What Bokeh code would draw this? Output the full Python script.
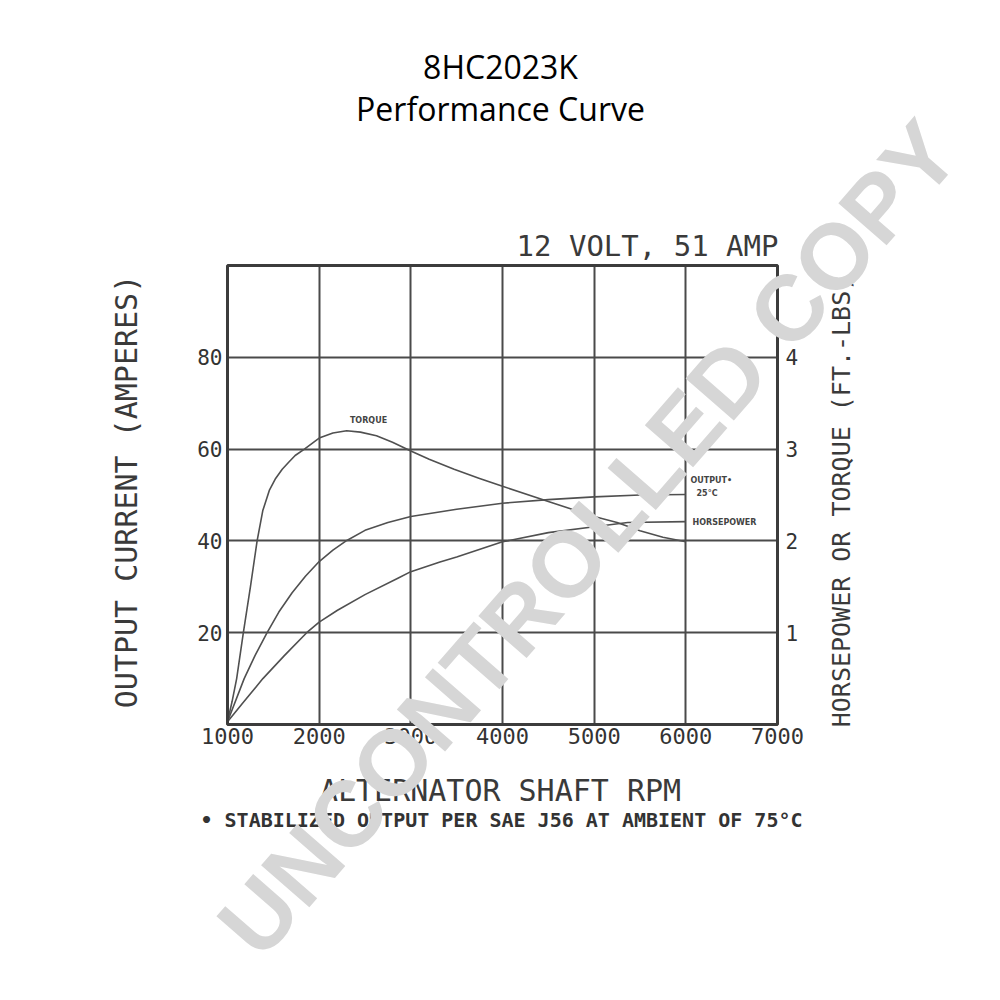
import math
from bokeh.plotting import figure
from bokeh.models import Range1d, LinearAxis, FixedTicker, Label, BoxAnnotation, Grid
from bokeh.embed import file_html
from bokeh.resources import INLINE

# ---------------- data ----------------
title_line1 = "8HC2023K"
title_line2 = "Performance Curve"
rating_text = "12 VOLT, 51 AMP"
x_title = "ALTERNATOR SHAFT RPM"
y_left_title = "OUTPUT CURRENT (AMPERES)"
y_right_title = "HORSEPOWER OR TORQUE (FT.-LBS)"
footnote = "\u2022 STABILIZED OUTPUT PER SAE J56 AT AMBIENT OF 75\u00b0C"
watermark = "UNCONTROLLED COPY"

x_ticks = [1000, 2000, 3000, 4000, 5000, 6000, 7000]
y_left_ticks = [20, 40, 60, 80]
y_left_max = 100
y_right_ticks = [1, 2, 3, 4]
y_right_max = 5

rpm_torque = [1000, 1050, 1100, 1173, 1250, 1323, 1385, 1456, 1525, 1597, 1670, 1738, 1839,
              2000, 2150, 2300, 2450, 2625, 2800, 3000, 3200, 3472, 3750, 4000, 4500,
              5000, 5250, 5500, 5750, 6000]
torque = [0.03, 0.25, 0.5, 1.0, 1.5, 2.0, 2.33, 2.55, 2.68, 2.78, 2.86, 2.93, 3.0,
          3.12, 3.175, 3.2, 3.185, 3.145, 3.075, 2.98, 2.89, 2.78, 2.68, 2.595, 2.43,
          2.265, 2.2, 2.11, 2.04, 1.99]

rpm_output = [1000, 1182, 1300, 1432, 1560, 1705, 1850, 2000, 2150, 2302, 2500, 2750,
              3000, 3500, 4000, 4500, 5000, 5500, 6000]
output_amps = [0.6, 10, 15, 20, 24.5, 28.7, 32.3, 35.5, 38, 40.1, 42.3, 44,
               45.3, 46.9, 48.2, 49, 49.6, 50, 50.1]

rpm_hp = [1000, 1180, 1386, 1620, 1864, 2000, 2200, 2500, 2864, 3000, 3318, 3500,
          4000, 4500, 5000, 5367, 6000]
horsepower = [0.03, 0.25, 0.5, 0.75, 1.0, 1.115, 1.245, 1.415, 1.595, 1.665, 1.77, 1.825,
              1.99, 2.09, 2.155, 2.2, 2.21]

# ---------------- layout ----------------
W, H = 992, 992
ML, MR, MT, MB = 40, 22, 0, 29          # canvas borders around the (large) frame
CL, CR, CT, CB = 227, 777, 265, 724     # where the chart box sits on the canvas

xpp = (x_ticks[-1] - x_ticks[0]) / (CR - CL)   # rpm per pixel
ypp = y_left_max / (CB - CT)                   # amps per pixel
x0 = x_ticks[0] - (CL - ML) * xpp
x1 = x_ticks[-1] + (W - MR - CR) * xpp
y0 = -(H - MB - CB) * ypp
y1 = y_left_max + (CT - MT) * ypp
rs = y_right_max / y_left_max

p = figure(width=W, height=H, output_backend="svg", toolbar_location=None,
           x_range=Range1d(x0, x1), y_range=Range1d(y0, y1),
           min_border_left=ML, min_border_right=MR,
           min_border_top=MT, min_border_bottom=MB,
           background_fill_color="white", border_fill_color="white")
p.extra_y_ranges = {"right": Range1d(y0 * rs, y1 * rs)}
p.outline_line_color = None

ink = "#3c3c3c"
mono = "DejaVu Sans Mono"
grid_color = "#4a4a4a"

p.xgrid.ticker = FixedTicker(ticks=x_ticks[1:-1])
p.ygrid.ticker = FixedTicker(ticks=y_left_ticks)
if "cross_bounds" in Grid.properties():
    p.xgrid.cross_bounds = (0, y_left_max)
    p.ygrid.cross_bounds = (x_ticks[0], x_ticks[-1])
    for g in (p.xgrid, p.ygrid):
        g.grid_line_color = grid_color
        g.grid_line_width = 2
        g.grid_line_alpha = 1
else:
    p.xgrid.visible = False
    p.ygrid.visible = False
    xs = x_ticks[1:-1]
    p.segment(x0=xs, x1=xs, y0=[0] * len(xs), y1=[y_left_max] * len(xs),
              line_color=grid_color, line_width=2)
    p.segment(x0=[x_ticks[0]] * len(y_left_ticks), x1=[x_ticks[-1]] * len(y_left_ticks),
              y0=y_left_ticks, y1=y_left_ticks, line_color=grid_color, line_width=2)

p.add_layout(BoxAnnotation(left=x_ticks[0], right=x_ticks[-1], bottom=0, top=y_left_max,
                           fill_alpha=0, line_color=ink, line_width=3, line_alpha=1))

def style_axis(ax, size, standoff):
    ax.axis_line_color = None
    ax.major_tick_line_color = None
    ax.minor_tick_line_color = None
    ax.major_tick_out = 0
    ax.major_tick_in = 0
    ax.major_label_text_font = mono
    ax.major_label_text_font_size = size
    ax.major_label_text_color = "#333333"
    ax.major_label_standoff = standoff

p.xaxis.ticker = FixedTicker(ticks=x_ticks)
p.xaxis.fixed_location = 0
style_axis(p.xaxis[0], "22px", 3)
p.yaxis.ticker = FixedTicker(ticks=y_left_ticks)
p.yaxis.fixed_location = x_ticks[0]
style_axis(p.yaxis[0], "21px", 5)
ra = LinearAxis(y_range_name="right", ticker=FixedTicker(ticks=y_right_ticks),
                fixed_location=x_ticks[-1])
style_axis(ra, "21px", 8)
p.add_layout(ra, "right")

# ---------------- curves ----------------
curve = dict(line_color="#505050", line_width=1.6, line_join="round")
p.line(rpm_torque, torque, y_range_name="right", **curve)
p.line(rpm_output, output_amps, **curve)
p.line(rpm_hp, horsepower, y_range_name="right", **curve)

# ---------------- texts ----------------
def dx(px):  # reference-image pixel -> data x
    return x_ticks[0] + (px - CL) * xpp

def dy(py):  # reference-image pixel -> data y
    return (CB - py) * ypp

def add_text(txt, px, py, size, font=mono, color="#333333", style="normal", angle=0.0, align="center"):
    p.add_layout(Label(x=dx(px), y=dy(py), text=txt, text_font=font, text_font_size=size,
                       text_color=color, text_font_style=style, angle=angle,
                       text_align=align, text_baseline="middle"))

add_text(title_line1, 500, 66, "32px", font="Open Sans", color="black")
add_text(title_line2, 500, 108, "32px", font="Open Sans", color="black")
add_text(rating_text, 647, 245, "29px", color="#3a3a3a")
add_text(y_left_title, 126, 491, "30px", angle=math.pi / 2, color="#3a3a3a")
add_text(y_right_title, 841, 501, "25px", angle=math.pi / 2, color="#3a3a3a")
add_text(x_title, 500, 790, "30px", color="#3a3a3a")
add_text(footnote, 501, 819, "20px", style="bold")

small = dict(size="8px", font="DejaVu Sans", style="bold", color="#444444")
add_text("TORQUE", 368, 420, **small)
add_text("OUTPUT\u2022", 690, 480, align="left", **small)
add_text("25\u00b0C", 696, 493, align="left", **small)
add_text("HORSEPOWER", 692, 522, align="left", **small)

# watermark
add_text(watermark, 588, 538, "93px", font="Liberation Sans", color="#d6d6d6",
         style="bold", angle=math.radians(48.9))

open("out.html", "w").write(file_html(p, INLINE))
